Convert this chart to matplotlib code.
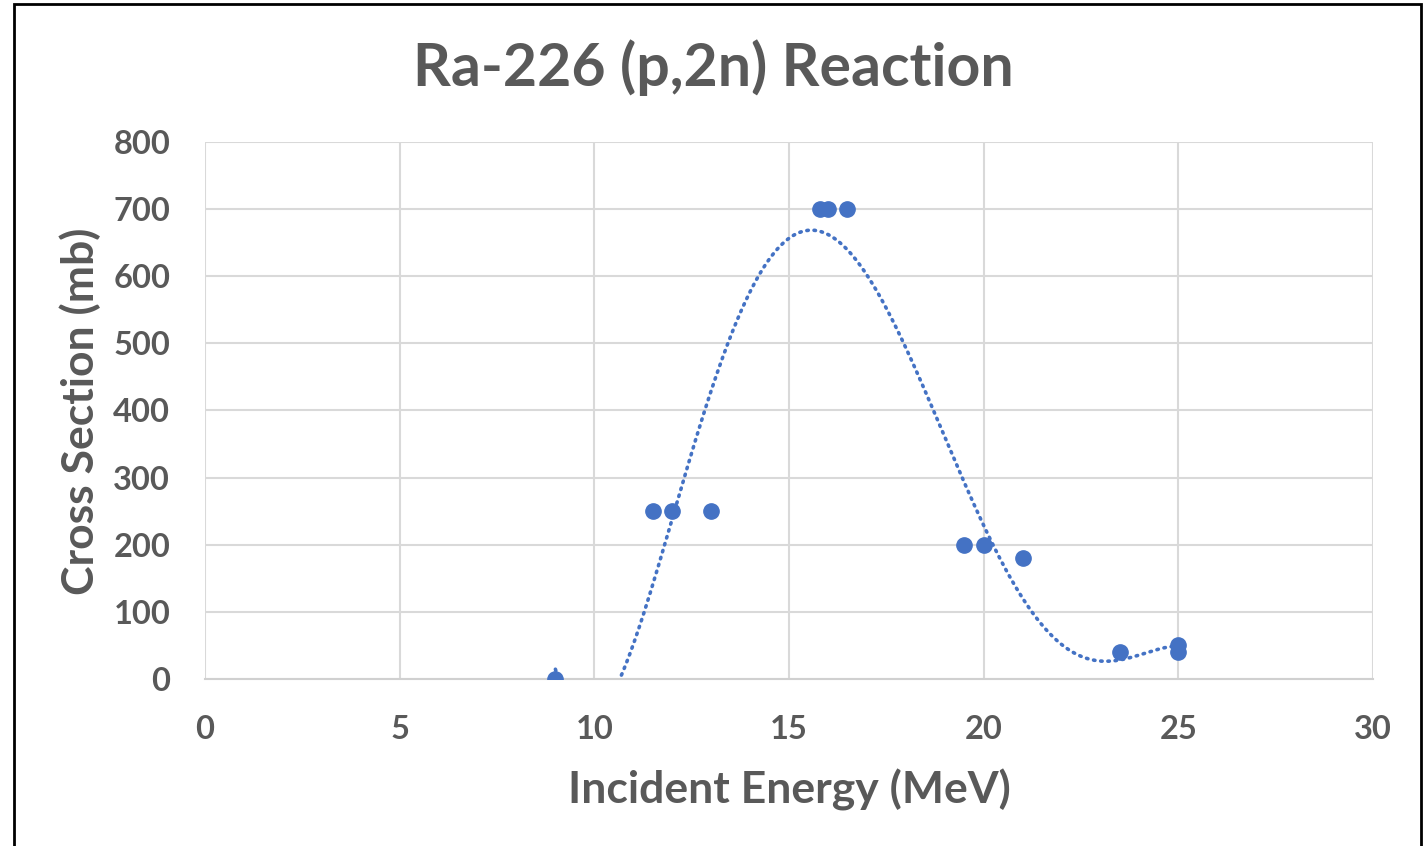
import numpy as np
import matplotlib.pyplot as plt
from matplotlib.patches import Rectangle

# data
energy = [9, 11.5, 12, 13, 15.8, 16, 16.5, 19.5, 20, 21, 23.5, 25, 25]
cross_section = [0, 250, 250, 250, 700, 700, 700, 200, 200, 180, 40, 50, 40]
x_ticks = [0, 5, 10, 15, 20, 25, 30]
y_ticks = [0, 100, 200, 300, 400, 500, 600, 700, 800]

blue = '#4472C4'
grey_text = '#595959'
plt.rcParams['font.family'] = ['Lato', 'DejaVu Sans']

fig = plt.figure(figsize=(14.26, 8.46), dpi=100)
ax = fig.add_axes([205/1426, 1-679/846, (1373-205)/1426, (679-142)/846])

# polynomial trendline like Excel's
coef = np.polyfit(energy, cross_section, 5)
xs = np.linspace(min(energy), max(energy), 400)
ax.plot(xs, np.polyval(coef, xs), color=blue, lw=2.6,
        linestyle=(0, (0.4, 1.6)), dash_capstyle='round', zorder=2)

ax.plot(energy, cross_section, 'o', color=blue, markersize=11, zorder=3)

ax.set_xlim(0, 30)
ax.set_ylim(0, 800)
ax.set_xticks(x_ticks)
ax.set_yticks(y_ticks)
ax.grid(True, color='#D9D9D9', lw=1.5)
ax.set_axisbelow(True)
for s in ['top', 'right', 'left']:
    ax.spines[s].set_visible(False)
ax.spines['bottom'].set_color('#D0D0D0')
ax.spines['bottom'].set_linewidth(1.5)
ax.tick_params(length=0, labelsize=23.5, labelcolor=grey_text)
ax.tick_params(axis='x', pad=26)
ax.tick_params(axis='y', pad=25)
for lbl in ax.get_xticklabels() + ax.get_yticklabels():
    lbl.set_fontweight('bold')

fig.text((205+1373)/2/1426, 1-790/846, 'Incident Energy (MeV)', ha='center',
         va='center', fontsize=32, fontweight='bold', color=grey_text)
fig.text(80/1426, 1-411/846, 'Cross Section (mb)', ha='center', va='center',
         rotation=90, fontsize=32, fontweight='bold', color=grey_text)
fig.text(0.5, 1-68/846, 'Ra-226 (p,2n) Reaction', ha='center', va='center',
         fontsize=42.5, fontweight='bold', color=grey_text)

fig.patches.append(Rectangle((14/1426, -0.05), (1421-14)/1426, 1.05-4/846,
                             transform=fig.transFigure, fill=False,
                             edgecolor='black', lw=2))

fig.savefig('out.png', dpi=100)
